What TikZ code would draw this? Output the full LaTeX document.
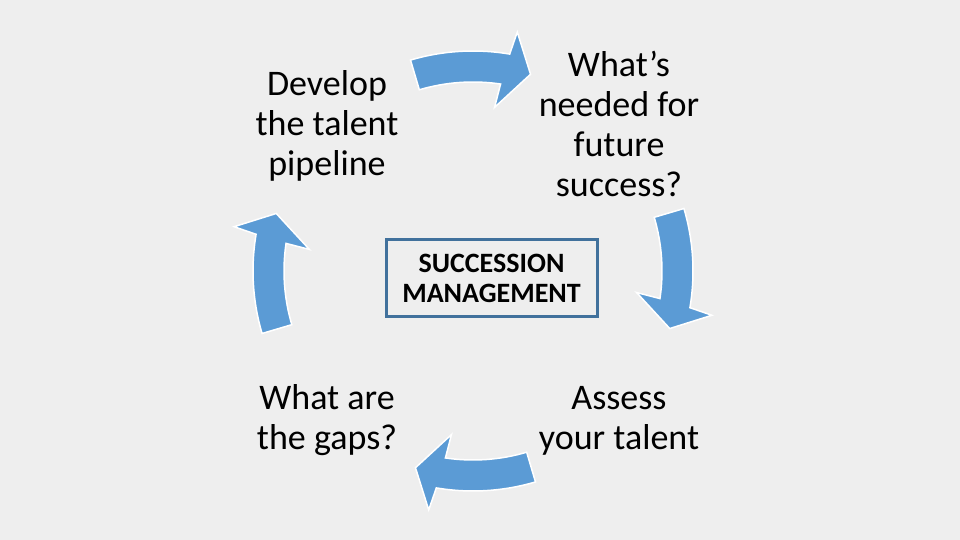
\documentclass[tikz,border=0pt]{standalone}
\usepackage{fontspec}
\setmainfont{Carlito}
\definecolor{bg}{HTML}{EEEEEE}
\definecolor{arrowblue}{HTML}{5B9BD5}
\definecolor{boxline}{HTML}{41719C}
\tikzset{
  lbl/.style={align=center, inner sep=0pt, font=\fontsize{36}{40}\selectfont, text=black},
  cyclearrow/.style={fill=arrowblue, draw=white, line width=1.5pt, line join=miter},
  centerbox/.style={draw=boxline, line width=3pt, minimum width=211pt, minimum height=77pt,
    align=center, inner sep=0pt, font=\fontsize{28}{30}\selectfont\bfseries, text=black}
}
\begin{document}
\begin{tikzpicture}[x=1pt,y=1pt]
\fill[bg] (0,0) rectangle (960,540);
\useasboundingbox (0,0) rectangle (960,540);
\begin{scope}[shift={(473,269)}]
\foreach \t in {90,0,-90,180}{
  \path[cyclearrow]
    (\t+16.5:220) arc[start angle=\t+16.5, end angle=\t-9.6, radius=220]
    -- (\t-10.5:243) -- (\t-16.3:205) -- (\t-7.5:165) -- (\t-8.4:189)
    arc[start angle=\t-8.4, end angle=\t+16.5, radius=189] -- cycle;
}
\end{scope}
\node[lbl] (develop) at (327,414) {Develop\\the talent\\pipeline};
\node[lbl] (needed) at (619,416.5) {What’s\\needed for\\future\\success?};
\node[lbl] (gaps) at (327,120) {What are\\the gaps?};
\node[lbl] (assess) at (619,119) {Assess\\your talent};
\node[centerbox] (succ) at (491.5,261.5) {SUCCESSION\\MANAGEMENT};
\end{tikzpicture}
\end{document}
